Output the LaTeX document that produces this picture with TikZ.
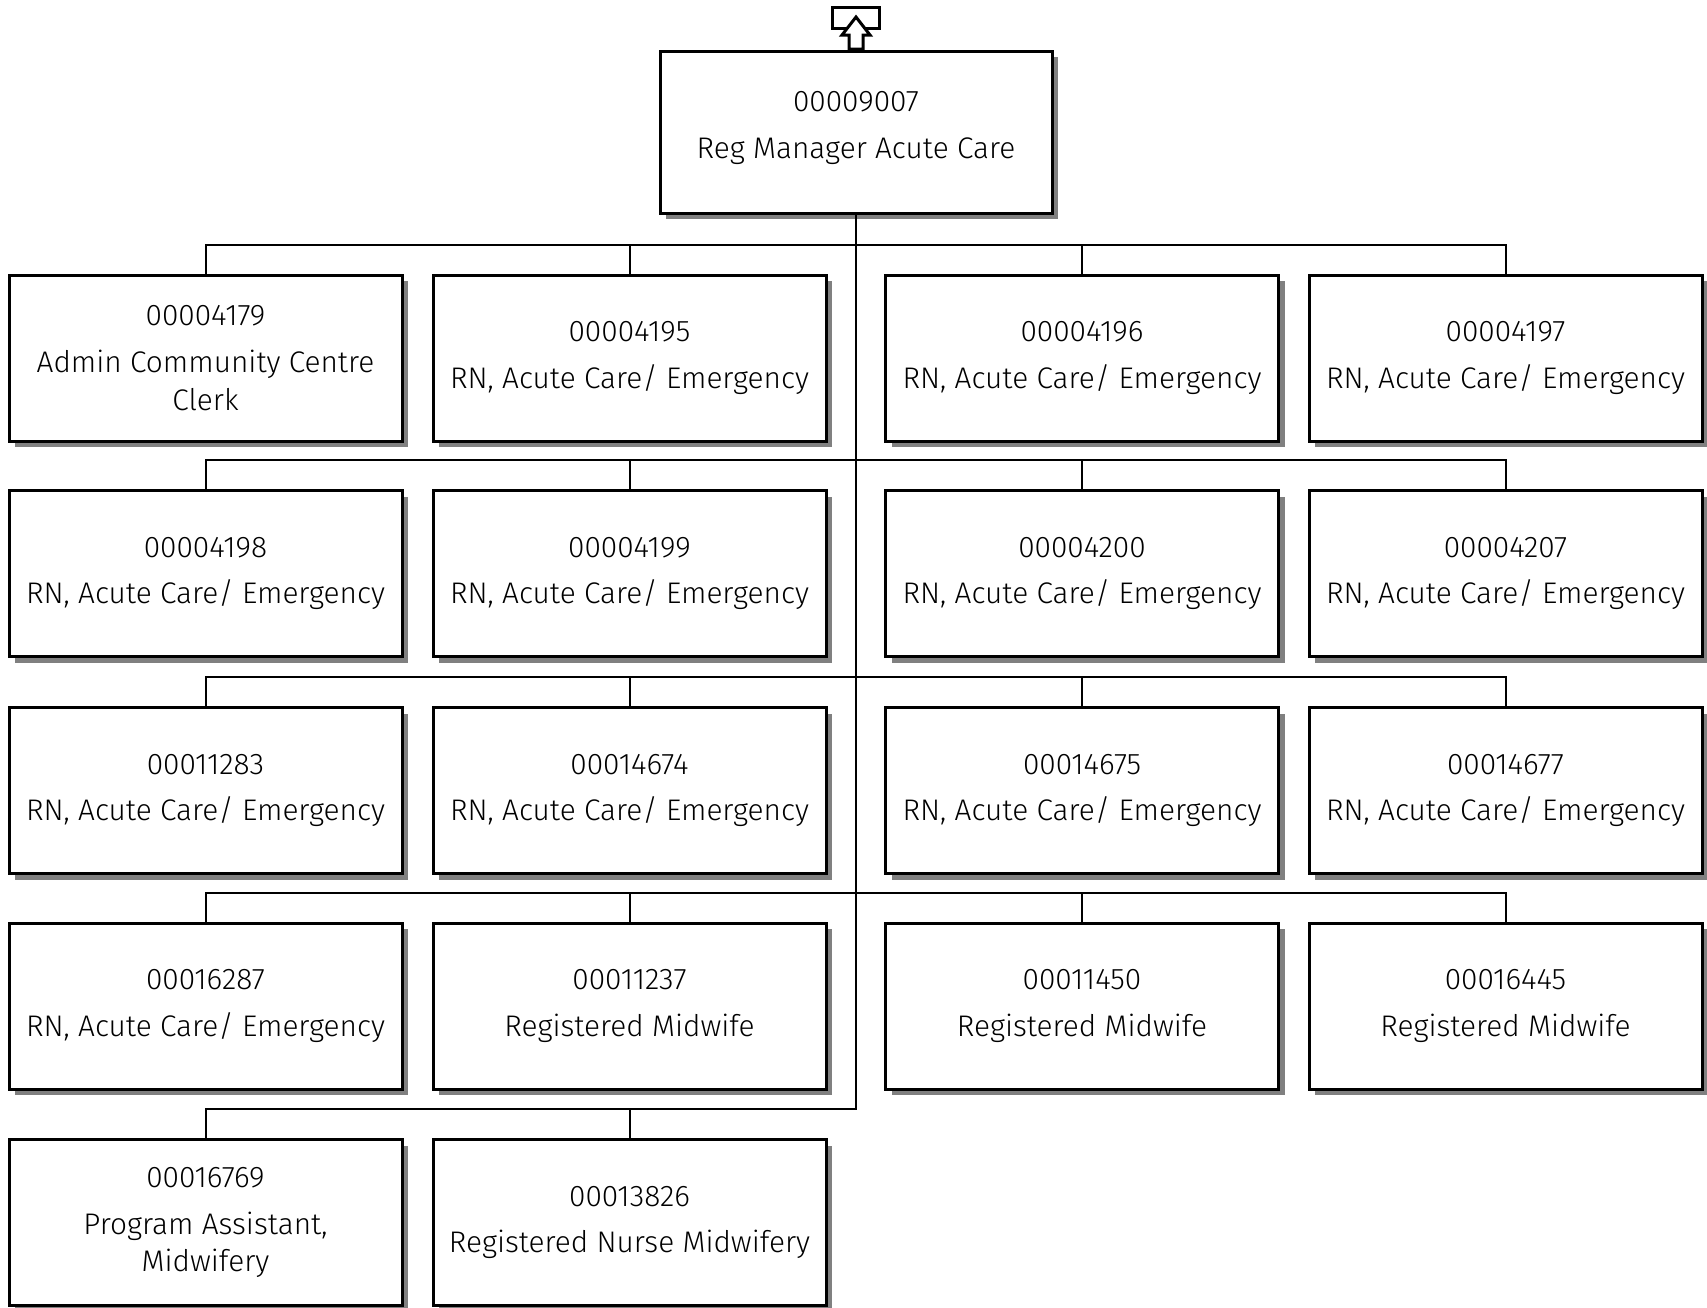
\documentclass[tikz,border=0pt]{standalone}
\usepackage{fontspec}
\setmainfont{Fira Sans Light}
\usetikzlibrary{calc,shadows}
\begin{document}
\begin{tikzpicture}[x=0.5pt,y=-0.5pt,
  box/.style={draw=black, line width=1.5pt, fill=white, rectangle,
    minimum width=196.5pt, minimum height=83pt, inner sep=0pt,
    align=center, font=\fontsize{14.9}{23.4}\selectfont,
    drop shadow={shadow xshift=3pt, shadow yshift=-3pt, fill=black!50, opacity=1}},
  lbl/.style={align=center, inner sep=0pt, font=\fontsize{14.9}{23.4}\selectfont},
  link/.style={draw=black, line width=1pt},
  icon/.style={draw=black, line width=1.5pt, fill=white, line join=miter}]
\useasboundingbox (0,0) rectangle (1707,1307);

\node[box, minimum height=81pt, minimum width=196pt] (top) at (856,132) {};
\node[lbl] (toplabel) at (856,128) {00009007\\Reg Manager Acute Care};

\node[box] (a1) at (205.5,358) {00004179\\Admin Community Centre\\[-4.5pt]Clerk};
\node[box] (a2) at (629.5,358) {00004195\\RN, Acute Care/ Emergency};
\node[box] (a3) at (1082,358) {00004196\\RN, Acute Care/ Emergency};
\node[box] (a4) at (1505.5,358) {00004197\\RN, Acute Care/ Emergency};

\node[box] (b1) at (205.5,573.5) {00004198\\RN, Acute Care/ Emergency};
\node[box] (b2) at (629.5,573.5) {00004199\\RN, Acute Care/ Emergency};
\node[box] (b3) at (1082,573.5) {00004200\\RN, Acute Care/ Emergency};
\node[box] (b4) at (1505.5,573.5) {00004207\\RN, Acute Care/ Emergency};

\node[box] (c1) at (205.5,790.5) {00011283\\RN, Acute Care/ Emergency};
\node[box] (c2) at (629.5,790.5) {00014674\\RN, Acute Care/ Emergency};
\node[box] (c3) at (1082,790.5) {00014675\\RN, Acute Care/ Emergency};
\node[box] (c4) at (1505.5,790.5) {00014677\\RN, Acute Care/ Emergency};

\node[box] (d1) at (205.5,1006) {00016287\\RN, Acute Care/ Emergency};
\node[box] (d2) at (629.5,1006) {00011237\\Registered Midwife};
\node[box] (d3) at (1082,1006) {00011450\\Registered Midwife};
\node[box] (d4) at (1505.5,1006) {00016445\\Registered Midwife};

\node[box] (e1) at (205.5,1222.5) {00016769\\Program Assistant,\\[-4.5pt]Midwifery};
\node[box] (e2) at (629.5,1222.5) {00013826\\Registered Nurse Midwifery};

\foreach \c in {a1,a2,a3,a4,b1,b2,b3,b4,c1,c2,c3,c4,d1,d2,d3,d4,e1,e2}
  \draw[link] (top.south) |- ($(\c.north)+(0,-29)$) -- (\c.north);

% top icon
\draw[icon] (832,7) rectangle (879,28);
\draw[icon] (849,49) -- (849,35) -- (842,35) -- (856,17) -- (870,35) -- (863,35) -- (863,49) -- cycle;
\end{tikzpicture}
\end{document}
